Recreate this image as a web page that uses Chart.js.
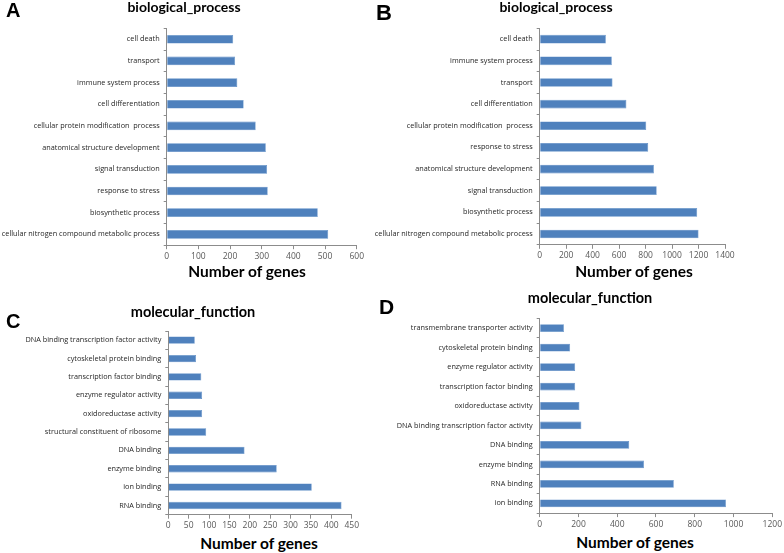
<!DOCTYPE html>
<html lang="en">
<head>
    <meta charset="UTF-8">
    <title>GO annotation - number of genes</title>
    <script src="https://cdn.jsdelivr.net/npm/chart.js"></script>
    <style>
        body { margin: 0; background: #fff; }
        #fig { position: relative; width: 784px; height: 553px; overflow: hidden; font-family: "Open Sans", sans-serif; }
        #fig canvas { position: absolute; }
        .txt { position: absolute; white-space: nowrap; color: #000; line-height: 1; }
        .letter { font-family: "Liberation Sans", Arial, sans-serif; font-weight: bold; font-size: 20px; }
        .title { font-family: Lato, sans-serif; font-weight: bold; font-size: 14px; transform: translateX(-50%); }
        .xlab { font-family: Lato, sans-serif; font-weight: bold; font-size: 15.5px; transform: translateX(-50%); }
    </style>
</head>
<body>
<div id="fig">
    <canvas id="chartA" width="366" height="245" style="left:0px;top:20px"></canvas>
    <canvas id="chartB" width="374" height="245" style="left:366px;top:20px"></canvas>
    <canvas id="chartC" width="386" height="210" style="left:0px;top:320px"></canvas>
    <canvas id="chartD" width="392" height="220" style="left:392px;top:310px"></canvas>

    <div class="txt letter" style="left:6px;top:0px">A</div>
    <div class="txt letter" style="left:376px;top:2px;font-size:22px">B</div>
    <div class="txt letter" style="left:6px;top:311px">C</div>
    <div class="txt letter" style="left:379px;top:296px;font-size:21px">D</div>

    <div class="txt title" style="left:184px;top:0px">biological_process</div>
    <div class="txt title" style="left:556px;top:0px">biological_process</div>
    <div class="txt title" style="left:193px;top:305px;font-size:14.5px">molecular_function</div>
    <div class="txt title" style="left:590px;top:291px;font-size:14.5px">molecular_function</div>

    <div class="txt xlab" style="left:247px;top:264px">Number of genes</div>
    <div class="txt xlab" style="left:634px;top:264px">Number of genes</div>
    <div class="txt xlab" style="left:259px;top:536px">Number of genes</div>
    <div class="txt xlab" style="left:635px;top:535px">Number of genes</div>
</div>

<script>
    // A - biological_process
    const labelsA = ['cell death', 'transport', 'immune system process', 'cell differentiation',
        'cellular protein modification  process', 'anatomical structure development', 'signal transduction',
        'response to stress', 'biosynthetic process', 'cellular nitrogen compound metabolic process'];
    const valuesA = [210, 216, 223, 243, 281, 313, 317, 319, 477, 510];
    const ticksA = { max: 600, step: 100 };

    // B - biological_process
    const labelsB = ['cell death', 'immune system process', 'transport', 'cell differentiation',
        'cellular protein modification  process', 'response to stress', 'anatomical structure development',
        'signal transduction', 'biosynthetic process', 'cellular nitrogen compound metabolic process'];
    const valuesB = [500, 545, 550, 655, 805, 820, 863, 884, 1190, 1200];
    const ticksB = { max: 1400, step: 200 };

    // C - molecular_function
    const labelsC = ['DNA binding transcription factor activity', 'cytoskeletal protein binding',
        'transcription factor binding', 'enzyme regulator activity', 'oxidoreductase activity',
        'structural constituent of ribosome', 'DNA binding', 'enzyme binding', 'ion binding', 'RNA binding'];
    const valuesC = [65, 68, 81, 83, 83, 93, 187, 266, 352, 425];
    const ticksC = { max: 450, step: 50 };

    // D - molecular_function
    const labelsD = ['transmembrane transporter activity', 'cytoskeletal protein binding',
        'enzyme regulator activity', 'transcription factor binding', 'oxidoreductase activity',
        'DNA binding transcription factor activity', 'DNA binding', 'enzyme binding', 'RNA binding', 'ion binding'];
    const valuesD = [125, 157, 183, 183, 205, 215, 462, 538, 692, 961];
    const ticksD = { max: 1200, step: 200 };

    const barColor = '#4f81bd';
    const axisColor = '#8c8c8c';

    // area = plot box in page pixels, box = canvas box in page pixels
    function drawPanel(id, labels, values, ticks, box, area) {
        const yw = area.l - box.left;
        const xh = box.top + box.height - area.b;
        new Chart(document.getElementById(id), {
            type: 'bar',
            data: {
                labels: labels,
                datasets: [{
                    data: values,
                    backgroundColor: barColor,
                    borderColor: '#5b8cc6',
                    borderWidth: 0.6,
                    barPercentage: 0.4,
                    categoryPercentage: 1
                }]
            },
            options: {
                indexAxis: 'y',
                responsive: false,
                animation: false,
                layout: {
                    padding: { left: 0, top: area.t - box.top, right: box.left + box.width - area.r, bottom: 0 }
                },
                plugins: { legend: { display: false }, tooltip: { enabled: false } },
                scales: {
                    x: {
                        min: 0,
                        max: ticks.max,
                        ticks: {
                            stepSize: ticks.step, padding: 2, color: '#595959', maxRotation: 0,
                            font: { family: 'Open Sans', size: 8.5 },
                            callback: function(v) { return String(v); }
                        },
                        grid: { drawOnChartArea: false, tickLength: 4, color: axisColor },
                        border: { color: axisColor },
                        afterFit: function(s) { s.height = xh; }
                    },
                    y: {
                        ticks: { padding: 4, color: '#262626', font: { family: 'Open Sans', size: 7.3 } },
                        grid: { drawOnChartArea: false, offset: true, tickLength: 3, color: axisColor },
                        border: { color: axisColor },
                        afterFit: function(s) { s.width = yw; }
                    }
                }
            }
        });
    }

    drawPanel('chartA', labelsA, valuesA, ticksA,
        { left: 0, top: 20, width: 366, height: 245 }, { l: 166.7, t: 25.5, r: 357.3, b: 245.2 });
    drawPanel('chartB', labelsB, valuesB, ticksB,
        { left: 366, top: 20, width: 374, height: 245 }, { l: 539.7, t: 28, r: 725, b: 244.8 });
    drawPanel('chartC', labelsC, valuesC, ticksC,
        { left: 0, top: 320, width: 386, height: 210 }, { l: 168.3, t: 331, r: 351.7, b: 514.7 });
    drawPanel('chartD', labelsD, valuesD, ticksD,
        { left: 392, top: 310, width: 392, height: 220 }, { l: 539.7, t: 317, r: 773.7, b: 513.1 });
</script>
</body>
</html>
